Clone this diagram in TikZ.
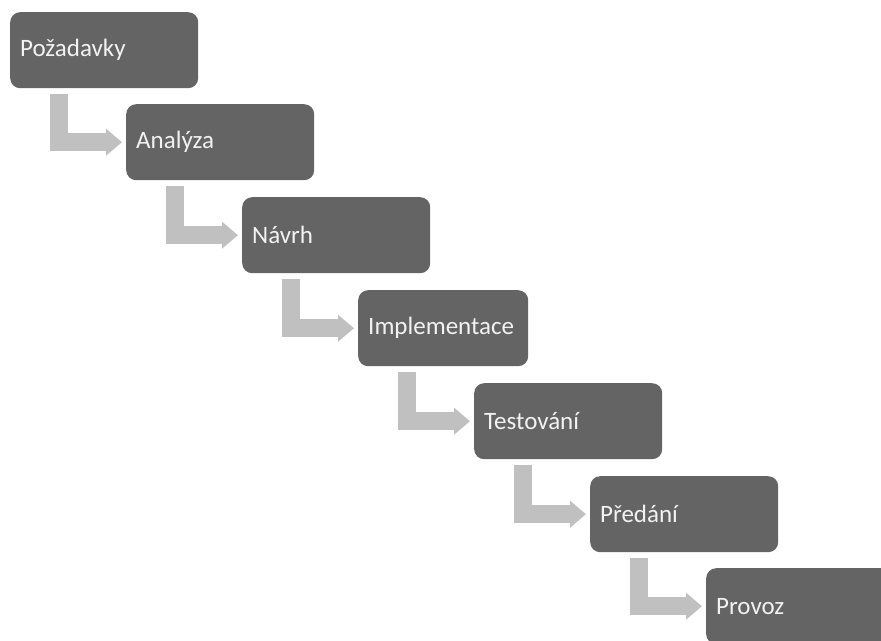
\documentclass[tikz,border=0pt]{standalone}
\usepackage{fontspec}
\setmainfont{Carlito}
\usetikzlibrary{arrows.meta,calc}

\definecolor{boxgray}{RGB}{100,100,100}
\definecolor{boxtext}{RGB}{242,242,242}
\definecolor{arrowgray}{RGB}{192,192,192}

\tikzset{
  phase/.style={fill=boxgray, text=boxtext, rounded corners=10pt, anchor=north west,
    minimum height=76pt, text width=168pt, inner xsep=10pt, align=left,
    font=\fontsize{25}{29}\selectfont},
  flow/.style={draw=arrowgray, line width=18pt, -{Triangle[length=16pt,width=26pt]}}
}

\begin{document}
\begin{tikzpicture}[x=1pt,y=-1pt]
\clip (0,0) rectangle (881,640);
\node[phase] (pozadavky) at (10,12) {Požadavky};
\node[phase] (analyza) at (126,104) {Analýza};
\node[phase] (navrh) at (242,197) {Návrh};
\node[phase,text width=150pt] (implementace) at (358,290) {Implementace};
\node[phase] (testovani) at (474,383) {Testování};
\node[phase] (predani) at (590,476) {Předání};
\node[phase] (provoz) at (706,568) {Provoz};
\draw[flow] ($(pozadavky.south west)+(49,6)$) |- ($(analyza.west)+(-4,0)$);
\draw[flow] ($(analyza.south west)+(49,6)$) |- ($(navrh.west)+(-4,0)$);
\draw[flow] ($(navrh.south west)+(49,6)$) |- ($(implementace.west)+(-4,0)$);
\draw[flow] ($(implementace.south west)+(49,6)$) |- ($(testovani.west)+(-4,0)$);
\draw[flow] ($(testovani.south west)+(49,6)$) |- ($(predani.west)+(-4,0)$);
\draw[flow] ($(predani.south west)+(49,6)$) |- ($(provoz.west)+(-4,0)$);
\end{tikzpicture}
\end{document}
